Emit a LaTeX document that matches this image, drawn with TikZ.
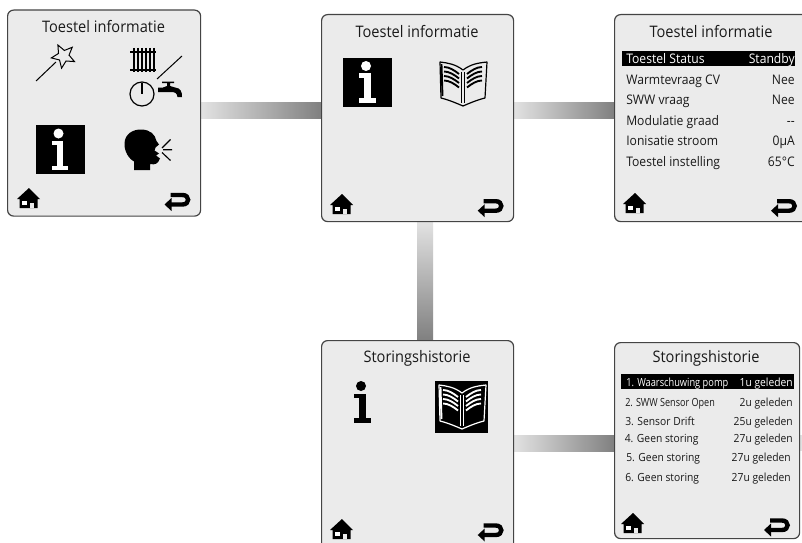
\documentclass[tikz,border=0pt]{standalone}
\usepackage{fontspec}
\setmainfont[FakeStretch=0.92]{Open Sans}
\usetikzlibrary{backgrounds,shapes.geometric}
\definecolor{panelgrey}{HTML}{EBEBEB}
\definecolor{panelline}{HTML}{444444}
\definecolor{barlight}{HTML}{E2E2E2}
\definecolor{bardark}{HTML}{808080}
\tikzset{
  x=0.75pt,y=-0.75pt,
  panel/.style={draw=panelline,line width=0.9pt,fill=panelgrey,rounded corners=4.5pt,inner sep=0pt,anchor=north west},
  titletext/.style={font=\fontsize{11.9pt}{14pt}\selectfont,text=black!90,inner sep=0pt,anchor=center},
  rowtext/.style={font=\fontsize{9.9pt}{12pt}\selectfont,text=black!90,inner sep=0pt,text height=9pt,text depth=2pt},
  rowleft/.style={rowtext,anchor=west},
  rowright/.style={rowtext,anchor=east},
  smalltext/.style={font=\fontsize{8.4pt}{10pt}\selectfont,text=black!90,inner sep=0pt,text height=8pt,text depth=2pt},
  smallleft/.style={smalltext,anchor=west},
  smallright/.style={smalltext,anchor=east},
  hbar/.style={left color=barlight,right color=bardark},
  vbar/.style={top color=barlight,bottom color=bardark},
  homeicon/.pic={
    \fill[black] (0,0)--(-12,11)--(-9.5,11)--(-9.5,20)--(8.5,20)--(8.5,11)--(11,11)--cycle;
    \fill[white] (-7,12.5) rectangle (-2,16.5);
    \fill[panelgrey] (1,14.5) rectangle (4.5,20);
  },
  backicon/.pic={
    \draw[black,line width=3.3pt] (5,0)--(18,0) .. controls (25.5,0) and (25.5,-9.5) .. (18,-9.5) -- (6,-9.5);
    \fill[black] (0,0)--(7,-6.5)--(7,6.5)--cycle;
  },
  infoletter/.pic={
    \fill[#1] (0,0) circle (5);
    \fill[#1] (-7,7.5) rectangle (4.5,11.5);
    \fill[#1] (-2,7.5) rectangle (4.5,34);
    \fill[#1] (-7,32) rectangle (9.5,36.5);
  },
  bookicon/.pic={
    \draw[#1,line width=0.9pt,line join=round] (0,-36) .. controls (-8,-42) and (-15,-43) .. (-23,-44) -- (-22,-8) .. controls (-14,-6) and (-7,-3) .. (0,0) .. controls (7,-3) and (14,-6) .. (22,-8) -- (24,-44) .. controls (15,-43) and (8,-42) .. (0,-36) -- cycle;
    \draw[#1,line width=1.4pt] (-21.5,-42) -- (-20.5,-10);
    \draw[#1,line width=1.1pt] (-1.5,-34) -- (-1.5,-3);
    \draw[#1,line width=1.1pt] (1.5,-34) -- (1.5,-3);
    \foreach \dy in {0,4.5,9,13.5}{
      \draw[#1,line width=1.4pt] (-19,-39+\dy) .. controls (-14,-39+\dy) and (-9,-36+\dy) .. (-4,-32+\dy);
      \draw[#1,line width=1.4pt] (19,-39+\dy) .. controls (14,-39+\dy) and (9,-36+\dy) .. (4,-32+\dy);
    }
  }
}
\begin{document}
\begin{tikzpicture}
\useasboundingbox (0,0) rectangle (802,542);
\clip (0,0) rectangle (802,542);
% panels
\node[panel,minimum width=144.75pt,minimum height=154.5pt] (p1) at (7,9.5) {};
\node[panel,minimum width=144pt,minimum height=155.25pt] (p2) at (321,14) {};
\node[panel,minimum width=148.5pt,minimum height=155.25pt] (p3) at (614,14) {};
\node[panel,minimum width=144pt,minimum height=165pt] (p4) at (321,340) {};
\node[panel,minimum width=138.75pt,minimum height=147pt] (p5) at (614,342) {};
% connectors
\begin{pgfonlayer}{background}
\fill[white] (0,0) rectangle (802,542);
\coordinate (b1a) at (0,102); \coordinate (b1b) at (0,118);
\shade[hbar] (p1.east |- b1a) rectangle (p2.west |- b1b);
\shade[hbar] (p2.east |- b1a) rectangle (p3.west |- b1b);
\coordinate (b3a) at (417,0); \coordinate (b3b) at (433,0);
\shade[vbar] (b3a |- p2.south) rectangle (b3b |- p4.north);
\coordinate (b4a) at (0,435); \coordinate (b4b) at (0,451);
\shade[hbar] (p4.east |- b4a) rectangle (p5.west |- b4b);
\coordinate (b5) at (802,451);
\fill[barlight] (p5.east |- b4a) rectangle (b5);
\end{pgfonlayer}
% titles
\node[titletext] (t1) at (103.5,27) {Toestel informatie};
\node[titletext] (t2) at (417,32) {Toestel informatie};
\node[titletext] (t3) at (711,32) {Toestel informatie};
\node[titletext] (t4) at (417,358) {Storingshistorie};
\node[titletext] (t5) at (706,358) {Storingshistorie};
% panel 1 icons
\draw[black,line width=0.75pt] (36,81) -- (56,62);
\node[star,star points=5,star point ratio=2.2,draw=black,line width=0.75pt,minimum size=18.5pt,inner sep=0pt,rotate=27] (starshape) at (63.5,56) {};
\draw[black,line width=1.5pt] (130,52) -- (156,52) (130,70) -- (156,70);
\foreach \xx in {134,138,142,146,150,154}{\draw[black,line width=1.7pt] (\xx,48) -- (\xx,72);}
\draw[black,line width=0.75pt] (157,79) -- (182,56);
\draw[black,line width=0.9pt] (142,94) circle (12);
\draw[black,line width=0.9pt] (142,83) -- (142,94);
\fill[black] (158,87.5) -- (163,87.5) -- (167,86) -- (167,83) -- (162,83) -- (162,81.5) -- (174,81.5) -- (174,83) -- (170,83) -- (170,86) -- (175,87.5) .. controls (181,88) and (182,92) .. (182,97) -- (177.5,97) .. controls (177,93) and (175,92) .. (171,92) -- (158,92) -- cycle;
\fill[black] (36,125) rectangle (85,174);
\pic at (58.5,133.5) {infoletter=white};
% head
\fill[black] (134,170) -- (134,161.5) .. controls (126,157) and (124,147) .. (124.5,143) .. controls (125,134) and (133,129) .. (142,129.5) .. controls (150,130) and (155,134) .. (156.5,141) -- (159,144.5) -- (155.5,147.5) -- (154.5,150.5) -- (159,153.5) -- (156,155.5) -- (160,158.5) .. controls (158,164) and (155,165) .. (150,164) -- (150,170) -- cycle;
\draw[black,line width=0.85pt] (162,148) -- (170.5,139.5) (163,149.7) -- (172,149.7) (162,152.5) -- (170.5,160.5);
% panel 2 icons
\fill[black] (343,58) rectangle (392,107);
\pic at (366,66) {infoletter=white};
\pic at (463,106) {bookicon=black};
% panel 3 rows
\fill[black] (622,51) rectangle (795,66);
\node[rowleft,text=white] (r1l) at (626,58.5) {Toestel Status};
\node[rowright,text=white] (r1r) at (795,58.5) {Standby};
\node[rowleft] (r2l) at (626,80) {Warmtevraag CV};
\node[rowright] (r2r) at (795,80) {Nee};
\node[rowleft] (r3l) at (626,100) {SWW vraag};
\node[rowright] (r3r) at (795,100) {Nee};
\node[rowleft] (r4l) at (626,121) {Modulatie graad};
\node[rowright] (r4r) at (795,121) {{-}{-}};
\node[rowleft] (r5l) at (626,141) {Ionisatie stroom};
\node[rowright] (r5r) at (795,141) {0µA};
\node[rowleft] (r6l) at (626,162) {Toestel instelling};
\node[rowright] (r6r) at (795,162) {65°C};
% panel 4 icons
\pic at (361,386) {infoletter=black};
\fill[black] (435,381) rectangle (488,433);
\pic at (462,429) {bookicon=white};
% panel 5 rows
\fill[black] (621,374) rectangle (794,389);
\node[smallleft,text=white] (s1l) at (626,382) {\scalebox{0.9}[1]{1. Waarschuwing pomp}};
\node[smallright,text=white] (s1r) at (793,382) {1u geleden};
\node[smallleft] (s2l) at (625,402) {\scalebox{0.88}[1]{2. SWW Sensor Open}};
\node[smallright] (s2r) at (793,402) {2u geleden};
\node[smallleft] (s3l) at (625,421) {3. Sensor Drift};
\node[smallright] (s3r) at (793,421) {25u geleden};
\node[smallleft] (s4l) at (624.5,438.5) {4. Geen storing};
\node[smallright] (s4r) at (793,438.5) {27u geleden};
\node[smallleft] (s5l) at (626,457) {5. Geen storing};
\node[smallright] (s5r) at (791,457) {27u geleden};
\node[smallleft] (s6l) at (625,477) {6. Geen storing};
\node[smallright] (s6r) at (791,477) {27u geleden};
% footer icons
\pic at (29,188) {homeicon};
\pic at (342,194) {homeicon};
\pic at (635,193) {homeicon};
\pic at (342,519) {homeicon};
\pic at (633,513) {homeicon};
\pic at (164.5,204.5) {backicon};
\pic at (477.7,210.7) {backicon};
\pic at (771,210.7) {backicon};
\pic at (477.7,535) {backicon};
\pic at (764,530) {backicon};
\end{tikzpicture}
\end{document}
